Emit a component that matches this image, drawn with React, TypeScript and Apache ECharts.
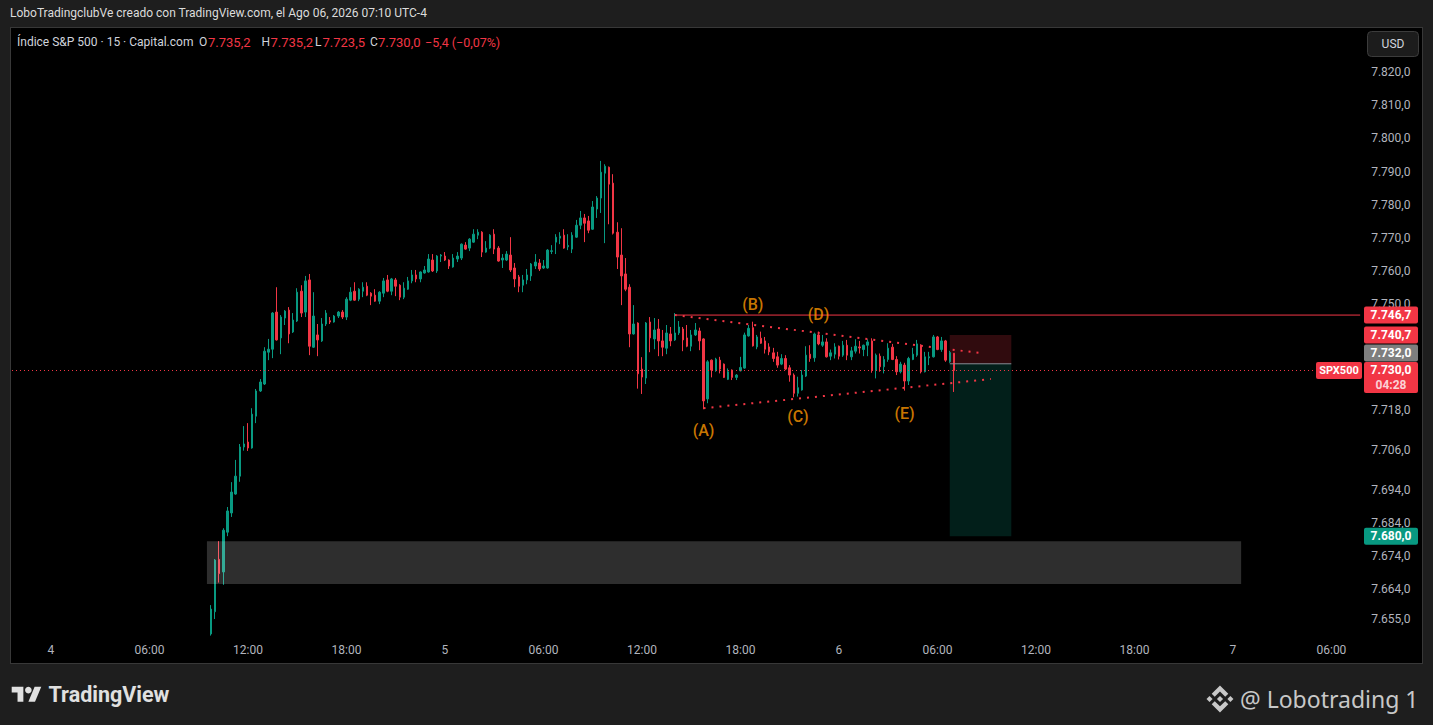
import React, { useEffect, useRef } from "react";
import * as echarts from "echarts";

// ---------- time scale (15-minute slots) ----------
const SLOT_START = { day: 3, hour: 21, minute: 45 };
const SLOT_COUNT = 329;
const SLOT_MINUTES = 15;
const FIRST_BAR_SLOT = 48; // day 4, 09:45

// ---------- candles: [open, high, low, close] ----------
const BARS_DAY4: number[][] = [
  [7650.5, 7659.2, 7650.0, 7658.0], [7657.2, 7673.1, 7655.0, 7672.8], [7673.0, 7678.5, 7666.0, 7668.7],
  [7669.2, 7682.4, 7665.3, 7681.8], [7681.2, 7688.8, 7680.0, 7687.6], [7687.0, 7696.3, 7685.8, 7693.3],
  [7692.7, 7703.0, 7692.5, 7698.1], [7698.1, 7707.8, 7696.4, 7706.9], [7706.9, 7713.2, 7705.8, 7707.8],
  [7708.4, 7714.1, 7705.7, 7706.6], [7706.6, 7718.6, 7706.4, 7716.8], [7716.2, 7724.4, 7714.1, 7723.8],
  [7723.8, 7727.4, 7723.5, 7726.5], [7725.9, 7737.0, 7725.6, 7735.8], [7735.5, 7739.5, 7733.1, 7736.4],
  [7736.4, 7747.6, 7733.7, 7747.3], [7747.6, 7755.1, 7739.0, 7739.2], [7739.8, 7746.7, 7734.9, 7746.1],
  [7745.8, 7748.2, 7743.7, 7747.9], [7748.2, 7749.1, 7738.2, 7741.0], [7741.6, 7747.3, 7741.3, 7745.2],
  [7744.9, 7754.8, 7744.6, 7753.6], [7753.9, 7755.7, 7746.1, 7747.3], [7747.6, 7758.5, 7746.1, 7757.0],
  [7757.3, 7759.1, 7734.6, 7737.3], [7737.0, 7753.6, 7736.8, 7746.4], [7740.7, 7744.0, 7734.3, 7739.2],
  [7738.9, 7745.8, 7738.6, 7744.0], [7744.0, 7748.2, 7743.4, 7747.3], [7745.0, 7746.1, 7744.0, 7744.6],
  [7744.6, 7746.7, 7744.4, 7746.4], [7746.4, 7747.9, 7745.8, 7747.6], [7747.6, 7748.2, 7745.5, 7746.1],
  [7746.1, 7752.1, 7745.2, 7751.5], [7751.2, 7755.1, 7750.9, 7753.6], [7753.9, 7756.6, 7751.0, 7751.2],
  [7751.5, 7754.8, 7750.9, 7754.5], [7753.9, 7756.6, 7752.1, 7755.1], [7755.4, 7756.6, 7752.4, 7752.7],
  [7753.3, 7753.6, 7749.7, 7752.4], [7752.7, 7754.5, 7750.7, 7750.9], [7750.9, 7753.9, 7750.0, 7753.6],
  [7753.3, 7757.9, 7752.1, 7757.0], [7757.3, 7758.8, 7753.6, 7753.9], [7753.9, 7757.9, 7752.7, 7757.6],
  [7757.3, 7757.9, 7752.4, 7755.4], [7755.7, 7756.0, 7751.2, 7752.1], [7752.1, 7756.6, 7751.5, 7754.8],
  [7754.5, 7758.2, 7754.3, 7757.0], [7757.0, 7760.3, 7756.3, 7758.8], [7758.8, 7760.3, 7756.6, 7757.6],
  [7757.6, 7759.9, 7756.6, 7759.7], [7759.4, 7761.5, 7759.2, 7760.3], [7759.7, 7765.1, 7759.5, 7763.6],
  [7763.3, 7765.1, 7759.7, 7760.0], [7760.0, 7764.8, 7759.4, 7764.5], [7764.5, 7765.1, 7762.7, 7764.8],
];

const BARS_DAY5: number[][] = [
  [7764.5, 7765.7, 7763.0, 7763.3], [7763.3, 7763.5, 7760.6, 7761.5], [7761.2, 7765.1, 7761.0, 7763.9],
  [7763.6, 7765.7, 7762.7, 7764.5], [7763.9, 7768.3, 7763.3, 7768.1], [7767.8, 7768.7, 7766.4, 7766.6],
  [7766.9, 7769.9, 7766.0, 7769.6], [7768.7, 7772.6, 7768.5, 7771.1], [7770.8, 7772.6, 7769.6, 7771.7],
  [7771.7, 7772.0, 7764.2, 7765.7], [7765.7, 7769.0, 7765.5, 7766.9], [7766.9, 7771.1, 7766.6, 7770.8],
  [7771.1, 7772.6, 7765.1, 7766.6], [7766.9, 7767.5, 7762.8, 7763.0], [7763.3, 7765.1, 7760.9, 7763.9],
  [7763.3, 7766.0, 7763.0, 7765.1], [7764.8, 7770.2, 7759.7, 7760.3], [7760.9, 7762.4, 7755.1, 7757.6],
  [7758.2, 7758.8, 7753.6, 7755.4], [7755.7, 7758.8, 7753.6, 7757.3], [7757.3, 7760.6, 7756.0, 7758.8],
  [7758.5, 7762.4, 7757.0, 7762.1], [7761.5, 7765.1, 7760.6, 7762.7], [7762.4, 7763.6, 7760.0, 7760.6],
  [7760.9, 7763.3, 7760.6, 7761.5], [7760.9, 7766.6, 7760.7, 7766.3], [7765.9, 7767.8, 7765.1, 7766.1],
  [7768.7, 7771.1, 7765.1, 7770.2], [7769.9, 7771.7, 7768.1, 7770.5], [7770.8, 7772.6, 7766.7, 7766.9],
  [7767.3, 7771.1, 7766.3, 7767.7], [7766.6, 7771.7, 7765.4, 7770.8], [7770.2, 7775.4, 7770.0, 7773.8],
  [7773.8, 7778.1, 7772.6, 7776.0], [7776.0, 7777.2, 7768.7, 7774.4], [7775.1, 7776.6, 7771.4, 7772.3],
  [7772.6, 7781.1, 7772.4, 7779.3], [7778.7, 7782.6, 7776.0, 7782.0], [7782.0, 7793.2, 7777.5, 7789.8],
  [7789.5, 7792.2, 7768.4, 7791.6], [7791.3, 7791.5, 7774.1, 7786.2], [7786.5, 7789.2, 7771.0, 7771.4],
  [7771.7, 7774.7, 7760.6, 7764.2], [7764.8, 7772.9, 7749.7, 7758.5], [7759.1, 7763.9, 7753.9, 7754.5],
  [7755.1, 7756.0, 7737.0, 7741.0], [7741.0, 7749.7, 7740.8, 7744.0], [7744.3, 7744.5, 7724.5, 7729.0],
  [7730.4, 7734.0, 7722.9, 7728.0], [7727.7, 7744.6, 7725.9, 7744.3], [7744.6, 7746.1, 7735.5, 7739.8],
  [7739.5, 7745.8, 7736.4, 7742.2], [7742.5, 7745.5, 7734.3, 7738.9], [7738.9, 7742.2, 7734.3, 7737.0],
  [7736.7, 7743.7, 7734.9, 7741.3], [7741.0, 7743.1, 7737.3, 7738.9], [7739.2, 7747.3, 7738.9, 7741.3],
  [7741.3, 7744.9, 7740.7, 7743.1], [7742.5, 7743.1, 7735.8, 7739.2], [7739.8, 7743.7, 7737.0, 7737.3],
  [7737.3, 7742.2, 7735.8, 7740.7], [7740.7, 7744.3, 7740.4, 7742.2], [7741.9, 7742.9, 7736.1, 7738.9],
  [7739.5, 7739.7, 7718.3, 7720.8], [7721.4, 7733.1, 7720.1, 7732.6], [7733.1, 7733.3, 7727.9, 7730.1],
  [7729.9, 7733.8, 7729.6, 7733.4], [7733.1, 7734.1, 7729.1, 7730.4], [7731.9, 7732.1, 7727.7, 7727.9],
  [7727.3, 7730.6, 7727.1, 7729.6], [7730.1, 7730.3, 7727.1, 7727.9], [7727.9, 7728.9, 7727.1, 7728.6],
  [7729.9, 7734.1, 7729.7, 7730.9], [7730.7, 7741.4, 7730.5, 7740.7], [7740.4, 7743.7, 7740.2, 7742.7],
  [7742.9, 7744.7, 7737.2, 7737.4], [7737.1, 7740.7, 7736.4, 7740.1], [7739.7, 7741.7, 7738.0, 7738.2],
  [7738.9, 7740.1, 7735.1, 7736.4], [7737.1, 7738.2, 7734.6, 7735.6], [7735.3, 7736.8, 7732.6, 7733.6],
  [7734.1, 7735.6, 7730.8, 7731.6], [7731.9, 7734.9, 7731.6, 7733.6], [7733.6, 7734.6, 7730.1, 7730.4],
  [7730.8, 7731.6, 7726.6, 7728.6], [7728.6, 7729.1, 7721.9, 7723.1], [7723.1, 7728.1, 7722.1, 7724.8],
  [7724.1, 7730.1, 7723.9, 7728.6], [7728.3, 7737.3, 7728.0, 7734.6], [7734.9, 7737.6, 7732.6, 7733.6],
  [7733.8, 7741.4, 7732.6, 7741.0], [7740.7, 7741.7, 7737.6, 7738.0], [7737.6, 7740.7, 7737.1, 7738.6],
  [7738.6, 7739.7, 7733.9, 7734.1], [7734.3, 7736.3, 7733.1, 7735.3], [7734.9, 7738.2, 7733.6, 7737.1],
];

const BARS_DAY6: number[][] = [
  [7737.3, 7737.5, 7733.3, 7734.3], [7734.6, 7738.9, 7734.1, 7737.6], [7737.6, 7739.2, 7733.1, 7734.6],
  [7734.1, 7737.1, 7733.1, 7735.9], [7735.8, 7739.4, 7735.1, 7737.3], [7737.1, 7738.9, 7735.1, 7736.8],
  [7736.3, 7737.8, 7734.3, 7737.6], [7737.6, 7739.4, 7734.3, 7738.6], [7738.9, 7739.7, 7729.3, 7730.1],
  [7730.1, 7735.1, 7727.6, 7734.6], [7734.3, 7735.1, 7729.6, 7731.1], [7731.1, 7734.3, 7729.1, 7733.3],
  [7733.3, 7738.2, 7732.6, 7736.7], [7737.0, 7738.0, 7733.1, 7733.3], [7733.3, 7734.3, 7728.6, 7729.6],
  [7729.6, 7732.6, 7729.1, 7731.9], [7731.6, 7732.3, 7723.9, 7726.8], [7726.8, 7734.1, 7725.6, 7733.6],
  [7733.3, 7736.8, 7733.1, 7734.9], [7734.6, 7739.2, 7734.1, 7738.0], [7737.6, 7737.9, 7729.1, 7729.6],
  [7729.6, 7735.6, 7729.4, 7734.1], [7733.8, 7735.6, 7731.6, 7734.1], [7734.1, 7740.7, 7733.9, 7740.1],
  [7740.1, 7740.4, 7736.1, 7736.3], [7736.3, 7740.1, 7735.6, 7738.9], [7738.9, 7739.2, 7732.6, 7733.1],
  [7732.6, 7735.9, 7732.3, 7735.4], [7735.2, 7735.2, 7723.5, 7730.0],
];

// ---------- price scale ----------
const Y_MIN = 7650;
const Y_MAX = 7833;
const Y_TICKS = [7820, 7810, 7800, 7790, 7780, 7770, 7760, 7750, 7718, 7706, 7694, 7684, 7674, 7664, 7655];

// ---------- drawings (slot index, price) ----------
const RESISTANCE = 7746.7;
const RESISTANCE_SLOTS = [161, 328];
const STOP = 7740.7;
const ENTRY = 7732.0;
const TARGET = 7680.0;
const POSITION_SLOTS = [228, 243];
const ZONE = { from: 47, to: 299, top: 7678.5, bottom: 7665.6 };
const TREND_UPPER: [number, number][] = [[161, 7746.7], [235, 7735.3]];
const TREND_LOWER: [number, number][] = [[168, 7718.6], [238, 7727.4]];
const WAVE_LABELS: [string, number, number][] = [
  ["(A)", 168, 7712.0], ["(B)", 180, 7749.9], ["(C)", 191, 7716.1], ["(D)", 196, 7746.8], ["(E)", 217, 7716.9],
];
const COUNTDOWN = "04:28";
const SYMBOL_TAG = "SPX500";

// ---------- texts ----------
const HEADER_TITLE = "LoboTradingclubVe creado con TradingView.com, el Ago 06, 2026 07:10 UTC-4";
const SYMBOL_TITLE = "Índice S&P 500 · 15 · Capital.com";
const WATERMARK = "@ Lobotrading 1";
const CURRENCY = "USD";

const GREEN = "#089981";
const RED = "#f23645";
const ORANGE = "#ff9800";
const AXIS_TEXT = "#b2b5be";
const FONT = 'Roboto, "Noto Sans", "DejaVu Sans", sans-serif';

const BARS = [...BARS_DAY4, ...BARS_DAY5, ...BARS_DAY6];

const pad2 = (n: number) => (n < 10 ? "0" + n : "" + n);
const CATEGORIES: string[] = [];
for (let i = 0; i < SLOT_COUNT; i++) {
  const total = SLOT_START.hour * 60 + SLOT_START.minute + i * SLOT_MINUTES;
  const day = SLOT_START.day + Math.floor(total / 1440);
  const m = total % 1440;
  CATEGORIES.push(`${day} ${pad2(Math.floor(m / 60))}:${pad2(m % 60)}`);
}

function fmtPrice(v: number, decimals = 1): string {
  const neg = v < 0;
  const [i, d] = Math.abs(v).toFixed(decimals).split(".");
  const s = i.replace(/\B(?=(\d{3})+(?!\d))/g, ".") + "," + d;
  return (neg ? "\u2212" : "") + s;
}

function txt(x: number, y: number, text: string, o: any = {}) {
  const align = o.align || "left";
  return {
    type: "text",
    x,
    y,
    z: 100,
    silent: true,
    style: {
      text,
      fill: o.fill || "#d1d4dc",
      fontSize: o.size || 12,
      fontFamily: o.family || FONT,
      fontWeight: o.weight || "normal",
      align,
      verticalAlign: "middle",
      textAlign: align,
      textVerticalAlign: "middle",
    },
  };
}

function rect(x: number, y: number, w: number, h: number, fill: string, r = 2, stroke?: string) {
  return {
    type: "rect",
    z: 99,
    silent: true,
    shape: { x, y, width: w, height: h, r },
    style: stroke ? { fill, stroke, lineWidth: 1 } : { fill },
  };
}

function poly(points: number[][], ox: number, oy: number, s: number, fill: string) {
  return {
    type: "polygon",
    z: 100,
    silent: true,
    shape: { points: points.map(([u, v]) => [ox + u * s, oy + v * s]) },
    style: { fill },
  };
}

const TV_T = [[0, 4], [14, 4], [14, 22], [7, 22], [7, 11], [0, 11]];
const TV_SLASH = [[20, 22], [27.5, 4], [35.5, 4], [28, 22]];
const BNB_PARTS = [
  [[38.73, 53.2], [63.32, 28.62], [87.92, 53.22], [102.22, 38.91], [63.32, 0], [24.43, 38.9]],
  [[0, 63.32], [14.3, 49.01], [28.61, 63.32], [14.3, 77.62]],
  [[38.73, 73.41], [63.32, 98], [87.92, 73.4], [102.23, 87.69], [63.32, 126.6], [24.41, 87.72]],
  [[97.97, 63.32], [112.27, 49.01], [126.58, 63.32], [112.28, 77.62]],
  [[77.83, 63.3], [63.32, 48.78], [48.81, 63.3], [63.32, 77.8]],
];

const rectRender = (fills: string[]) => (_p: any, api: any) => {
  const a = api.coord([api.value(0), api.value(1)]);
  const b = api.coord([api.value(2), api.value(3)]);
  return {
    type: "rect",
    shape: {
      x: Math.min(a[0], b[0]),
      y: Math.min(a[1], b[1]),
      width: Math.abs(b[0] - a[0]),
      height: Math.abs(b[1] - a[1]),
    },
    style: { fill: fills[api.value(4) || 0] },
  };
};

export default function App() {
  const ref = useRef<HTMLDivElement>(null);

  useEffect(() => {
    if (!ref.current) return;
    const chart = echarts.init(ref.current, null, { renderer: "svg" });

    const candleData = BARS.map((b, k) => [FIRST_BAR_SLOT + k, b[0], b[3], b[2], b[1]]);
    const last = BARS[BARS.length - 1];
    const prev = BARS[BARS.length - 2];

    const option: any = {
      animation: false,
      backgroundColor: "transparent",
      grid: { left: 12, right: 70.8, top: 29, bottom: 89.4, containLabel: false },
      xAxis: {
        type: "category",
        data: CATEGORIES,
        boundaryGap: true,
        axisLine: { show: false },
        axisTick: { show: false },
        splitLine: { show: false },
        axisLabel: {
          color: AXIS_TEXT,
          fontSize: 12,
          fontFamily: FONT,
          margin: 8,
          interval: (_i: number, v: string) => {
            const hm = v.split(" ")[1];
            const [hh, mm] = hm.split(":").map(Number);
            return mm === 0 && hh % 6 === 0;
          },
          formatter: (v: string) => {
            const [d, hm] = v.split(" ");
            return hm === "00:00" ? d : hm;
          },
        },
      },
      yAxis: {
        type: "value",
        position: "right",
        min: Y_MIN,
        max: Y_MAX,
        interval: 1,
        axisLine: { show: false },
        axisTick: { show: false },
        splitLine: { show: false },
        axisLabel: {
          color: AXIS_TEXT,
          fontSize: 12,
          fontFamily: FONT,
          margin: 9,
          formatter: (v: number) => (Y_TICKS.indexOf(Math.round(v)) >= 0 ? fmtPrice(v) : ""),
        },
      },
      series: [
        {
          type: "custom",
          name: "position",
          z: 1,
          silent: true,
          encode: { x: [0, 2], y: [1, 3] },
          renderItem: rectRender(["rgba(242,54,69,0.2)", "rgba(8,153,129,0.2)"]),
          data: [
            [POSITION_SLOTS[0], STOP, POSITION_SLOTS[1], ENTRY, 0],
            [POSITION_SLOTS[0], ENTRY, POSITION_SLOTS[1], TARGET, 1],
          ],
        },
        {
          type: "candlestick",
          name: "SPX500",
          z: 2,
          barWidth: 2,
          encode: { x: 0, y: [1, 2, 3, 4] },
          data: candleData,
          itemStyle: {
            color: GREEN,
            color0: RED,
            borderColor: GREEN,
            borderColor0: RED,
            borderWidth: 1,
          },
          markLine: {
            silent: true,
            symbol: ["none", "none"],
            label: { show: false },
            animation: false,
            data: [
              { yAxis: last[3], lineStyle: { color: RED, type: [1, 3], width: 1 } },
              [
                { coord: TREND_UPPER[0], lineStyle: { color: RED, type: [2, 6], width: 2 } },
                { coord: TREND_UPPER[1], lineStyle: { color: RED, type: [2, 6], width: 2 } },
              ],
              [
                { coord: TREND_LOWER[0], lineStyle: { color: RED, type: [2, 6], width: 2 } },
                { coord: TREND_LOWER[1], lineStyle: { color: RED, type: [2, 6], width: 2 } },
              ],
            ],
          },
        },
        {
          type: "custom",
          name: "levels",
          z: 3,
          silent: true,
          encode: { x: [0, 2], y: [1, 3] },
          renderItem: (_p: any, api: any) => {
            const a = api.coord([api.value(0), api.value(1)]);
            const b = api.coord([api.value(2), api.value(3)]);
            const strokes = [RED, "#8a8d96"];
            return {
              type: "line",
              shape: { x1: a[0], y1: a[1], x2: b[0], y2: b[1] },
              style: { stroke: strokes[api.value(4)], lineWidth: 1 },
            };
          },
          data: [
            [RESISTANCE_SLOTS[0], RESISTANCE, RESISTANCE_SLOTS[1], RESISTANCE, 0],
            [POSITION_SLOTS[0], ENTRY, POSITION_SLOTS[1], ENTRY, 1],
          ],
        },
        {
          type: "custom",
          name: "zone",
          z: 5,
          silent: true,
          encode: { x: [0, 2], y: [1, 3] },
          renderItem: rectRender(["rgba(255,255,255,0.18)"]),
          data: [[ZONE.from, ZONE.top, ZONE.to, ZONE.bottom, 0]],
        },
        {
          type: "scatter",
          name: "waves",
          z: 6,
          silent: true,
          symbolSize: 1,
          itemStyle: { color: "transparent" },
          label: {
            show: true,
            position: "inside",
            color: ORANGE,
            fontSize: 16,
            fontWeight: 500,
            fontFamily: FONT,
            formatter: (p: any) => p.data[2],
          },
          data: WAVE_LABELS.map(([t, s, v]) => [s, v, t]),
        },
      ],
    };

    chart.setOption(option);

    const yPx = (v: number) => chart.convertToPixel({ yAxisIndex: 0 }, v) as unknown as number;
    const change = last[3] - prev[3];
    const changePct = (change / prev[3]) * 100;

    const yR = yPx(RESISTANCE);
    const yS = yPx(STOP);
    const yL = yPx(last[3]);
    const yT = yPx(TARGET);
    const lastTop = yL - 8.5;
    const yE = lastTop - 0.5 - 8.5;
    const BX = 1364;
    const BW = 54;
    const BCX = 1391;
    const boxText = (y: number, t: string, fill = "#ffffff") =>
      txt(BCX, y, t, { align: "center", weight: "bold", fill });

    const graphics: any[] = [
      // header
      txt(10, 13, HEADER_TITLE, { fill: "#dcdcdc" }),
      txt(17, 42, SYMBOL_TITLE, { fill: "#d1d4dc" }),
      txt(199, 42, "O", { fill: "#d1d4dc" }),
      txt(208, 42, fmtPrice(last[0]), { fill: RED, size: 13 }),
      txt(261.5, 42, "H", { fill: "#d1d4dc" }),
      txt(270.5, 42, fmtPrice(last[1]), { fill: RED, size: 13 }),
      txt(315, 42, "L", { fill: "#d1d4dc" }),
      txt(322.5, 42, fmtPrice(last[2]), { fill: RED, size: 13 }),
      txt(370, 42, "C", { fill: "#d1d4dc" }),
      txt(378, 42, fmtPrice(last[3]), { fill: RED, size: 13 }),
      txt(425, 42, `${fmtPrice(change)} (${fmtPrice(changePct, 2)}%)`, { fill: RED, size: 12.5 }),
      // currency button
      rect(1367.5, 31.5, 51, 25, "#1c1c1c", 4, "#3c3c3c"),
      txt(1393, 44, CURRENCY, { align: "center", fill: "#d1d4dc" }),
      // price labels
      rect(BX, yR - 8.5, BW, 17, RED),
      boxText(yR, fmtPrice(RESISTANCE)),
      rect(BX, yS - 8.5, BW, 17, RED),
      boxText(yS, fmtPrice(STOP)),
      rect(BX, yE - 8.5, BW, 17, "#7e7e7e"),
      boxText(yE, fmtPrice(ENTRY)),
      rect(BX, lastTop, BW, 31, RED),
      boxText(yL, fmtPrice(last[3])),
      boxText(yL + 15, COUNTDOWN, "rgba(255,255,255,0.78)"),
      rect(1316, lastTop, 46, 17, RED),
      txt(1339, yL, SYMBOL_TAG, { align: "center", weight: "bold", fill: "#ffffff", size: 11 }),
      rect(BX, yT - 8.5, BW, 17, GREEN),
      boxText(yT, fmtPrice(TARGET)),
      // TradingView logo
      poly(TV_T, 11.7, 683.4, 0.833, "#e0e0e0"),
      poly(TV_SLASH, 11.7, 683.4, 0.833, "#e0e0e0"),
      {
        type: "circle",
        z: 100,
        silent: true,
        shape: { cx: 11.7 + 20 * 0.833, cy: 683.4 + 8 * 0.833, r: 4 * 0.833 },
        style: { fill: "#e0e0e0" },
      },
      txt(48.5, 694, "TradingView", { fill: "#e0e0e0", size: 21.5, weight: "bold" }),
      // watermark
      ...BNB_PARTS.map((p) => poly(p, 1206.5, 685.5, 0.213, "#c8c8c8")),
      txt(1240, 699, WATERMARK, { fill: "#c8c8c8", size: 23, family: '"Noto Sans", "Open Sans", sans-serif' }),
    ];

    chart.setOption({ graphic: graphics });

    return () => {
      chart.dispose();
    };
  }, []);

  return (
    <div
      style={{
        position: "fixed",
        left: 0,
        top: 0,
        width: 1433,
        height: 725,
        background: "#1e1e1e",
        overflow: "hidden",
      }}
    >
      <div
        style={{
          position: "absolute",
          left: 10,
          top: 27,
          width: 1411,
          height: 635,
          background: "#000000",
          border: "1px solid #383838",
        }}
      />
      <div ref={ref} style={{ position: "absolute", left: 0, top: 0, width: 1433, height: 725 }} />
    </div>
  );
}
